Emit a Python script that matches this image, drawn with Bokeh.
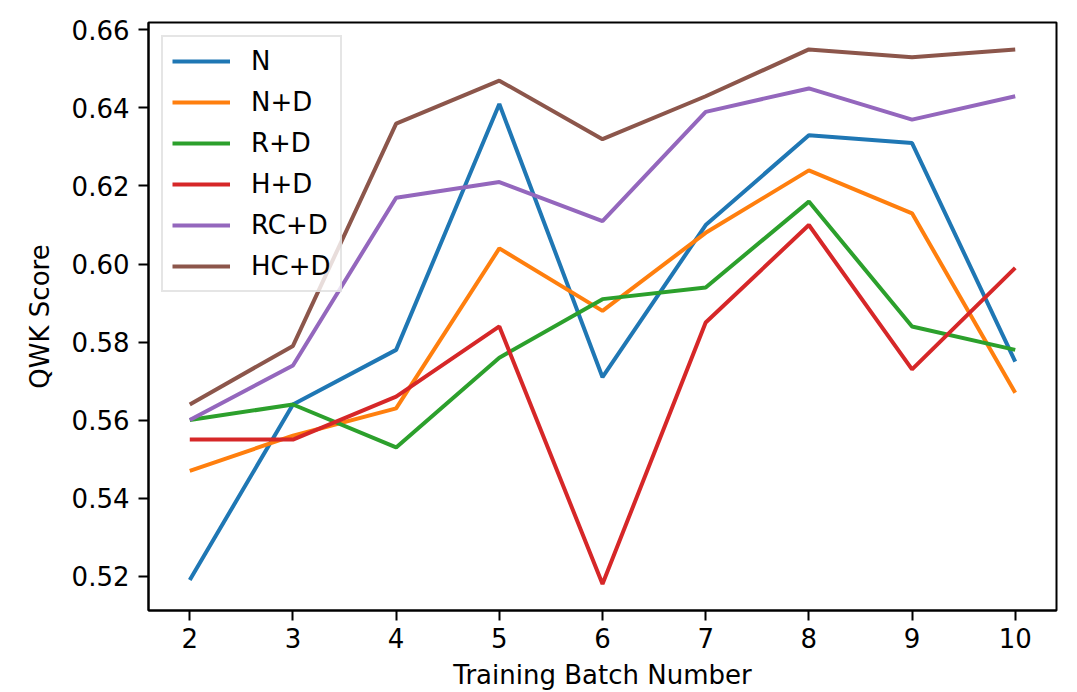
from bokeh.plotting import figure
from bokeh.models import Range1d, FixedTicker, PrintfTickFormatter, Legend, LegendItem
from bokeh.embed import file_html
from bokeh.resources import INLINE

batches = [2, 3, 4, 5, 6, 7, 8, 9, 10]
n_vals = [0.519, 0.564, 0.578, 0.641, 0.571, 0.610, 0.633, 0.631, 0.575]
nd_vals = [0.547, 0.556, 0.563, 0.604, 0.588, 0.608, 0.624, 0.613, 0.567]
rd_vals = [0.560, 0.564, 0.553, 0.576, 0.591, 0.594, 0.616, 0.584, 0.578]
hd_vals = [0.555, 0.555, 0.566, 0.584, 0.518, 0.585, 0.610, 0.573, 0.599]
rcd_vals = [0.560, 0.574, 0.617, 0.621, 0.611, 0.639, 0.645, 0.637, 0.643]
hcd_vals = [0.564, 0.579, 0.636, 0.647, 0.632, 0.643, 0.655, 0.653, 0.655]

series_names = ["N", "N+D", "R+D", "H+D", "RC+D", "HC+D"]
series_vals = [n_vals, nd_vals, rd_vals, hd_vals, rcd_vals, hcd_vals]
colors = ["#1f77b4", "#ff7f0e", "#2ca02c", "#d62728", "#9467bd", "#8c564b"]
y_ticks = [0.52, 0.54, 0.56, 0.58, 0.60, 0.62, 0.64, 0.66]

FONT = "DejaVu Sans"
FS = "26px"

p = figure(width=1077, height=692, output_backend="svg", toolbar_location=None,
           x_range=Range1d(1.6, 10.4), y_range=Range1d(0.5112, 0.6619),
           min_border_left=148, min_border_right=21, min_border_top=22, min_border_bottom=80)
p.background_fill_color = "white"
p.border_fill_color = "white"
p.outline_line_color = "black"
p.outline_line_width = 2
p.grid.visible = False

items = []
for name, vals, c in zip(series_names, series_vals, colors):
    r = p.line(batches, vals, line_color=c, line_width=4)
    items.append(LegendItem(label=name, renderers=[r]))

for ax in (p.xaxis[0], p.yaxis[0]):
    ax.axis_line_width = 2
    ax.axis_line_color = "black"
    ax.major_tick_line_width = 2
    ax.major_tick_line_color = "black"
    ax.major_tick_out = 10
    ax.major_tick_in = 0
    ax.minor_tick_line_color = None
    ax.major_label_text_font = FONT
    ax.major_label_text_font_size = FS
    ax.major_label_text_color = "black"
    ax.axis_label_text_font = FONT
    ax.axis_label_text_font_size = FS
    ax.axis_label_text_font_style = "normal"
    ax.axis_label_text_color = "black"

p.xaxis.ticker = FixedTicker(ticks=batches)
p.xaxis.major_label_standoff = 7
p.xaxis.axis_label = "Training Batch Number"
p.xaxis.axis_label_standoff = 9
p.yaxis.ticker = FixedTicker(ticks=y_ticks)
p.yaxis.formatter = PrintfTickFormatter(format="%.2f")
p.yaxis.major_label_standoff = 9
p.yaxis.axis_label = "QWK Score"
p.yaxis.axis_label_standoff = 14

legend = Legend(items=items, location="top_left")
legend.margin = 13
legend.padding = 9
legend.spacing = 11
legend.glyph_width = 58
legend.glyph_height = 30
legend.label_height = 30
legend.label_standoff = 21
legend.label_text_font = FONT
legend.label_text_font_size = FS
legend.label_text_color = "black"
legend.border_line_color = "#cccccc"
legend.border_line_width = 2
legend.background_fill_color = "white"
legend.background_fill_alpha = 0.8
p.add_layout(legend, "center")

open("out.html", "w").write(file_html(p, INLINE))
